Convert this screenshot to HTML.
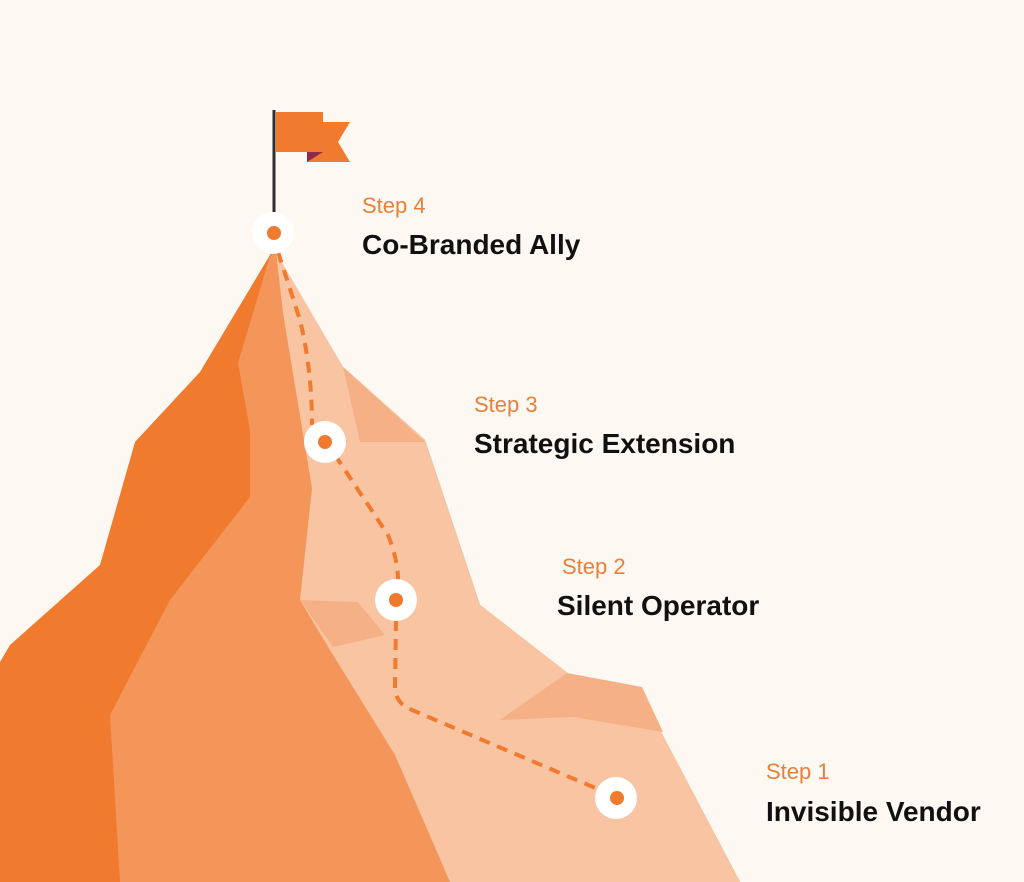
<!DOCTYPE html>
<html><head><meta charset="utf-8"><style>
html,body{margin:0;padding:0;background:#fdf8f2;}
svg{display:block}
.s{font-family:"Liberation Sans",sans-serif;font-size:22px;fill:#ea8038}
.t{font-family:"Liberation Sans",sans-serif;font-size:28px;fill:#111;font-weight:bold}
</style></head><body>
<svg width="1024" height="882" viewBox="0 0 1024 882" xmlns="http://www.w3.org/2000/svg">
<rect width="1024" height="882" fill="#fdf8f2"/>
<path d="M273,250 L200,372 L135,442 L100,565 L10,645 L0,662 L0,882 L740,882 L660,730 L640,690 L570,675 L480,605 L425,440 L343,367 Z" fill="#f07a2e"/>
<path d="M270,256 L238,363 L250,430 L250,497 L170,600 L110,715 L120,882 L740,882 L660,730 L640,690 L570,675 L480,605 L425,440 L343,367 L275,252 Z" fill="#f4955a"/>
<path d="M276,252 L283,313 L312,488 L300,600 L330,650 L395,755 L450,882 L740,882 L660,730 L640,690 L570,675 L480,605 L425,440 L343,367 Z" fill="#f9c4a1"/>
<path d="M343,367 L425,442 L360,442 Z" fill="#f5b085"/>
<path d="M300,600 L358,602 L385,635 L333,647 Z" fill="#f5b085"/>
<path d="M567,673 L642,687 L663,732 L573,717 L500,720 Z" fill="#f5b085"/>
<rect x="272.5" y="110" width="3" height="102" fill="#2e2e2e"/>
<polygon points="305,122 350,122 338,142 350,162 307,162 307,152 305,152" fill="#f07a2e"/>
<rect x="276" y="112" width="47" height="40" fill="#f07a2e"/>
<polygon points="307,152 323,152 307,162" fill="#8b2a4a"/>
<g fill="none" stroke="#f07a2e" stroke-width="4" stroke-dasharray="11,8">
<path d="M278,252 L300,320 Q312,370 312,425"/>
<path d="M335,455 L388,535 Q398,560 398,580"/>
<path d="M396,620 L395,688 Q396,704 412,710 L600,790"/>
</g>
<g fill="#fff">
<circle cx="273" cy="233" r="21"/><circle cx="325" cy="442" r="21"/><circle cx="396" cy="600" r="21"/><circle cx="616" cy="798" r="21"/>
</g>
<g fill="#f07a2e">
<circle cx="274" cy="233" r="7"/><circle cx="325" cy="442" r="7"/><circle cx="396" cy="600" r="7"/><circle cx="617" cy="798" r="7"/>
</g>
<text class="s" x="362" y="213">Step 4</text>
<text class="t" x="362" y="254">Co-Branded Ally</text>
<text class="s" x="474" y="412">Step 3</text>
<text class="t" x="474" y="453">Strategic Extension</text>
<text class="s" x="562" y="574">Step 2</text>
<text class="t" x="557" y="615">Silent Operator</text>
<text class="s" x="766" y="779">Step 1</text>
<text class="t" x="766" y="821">Invisible Vendor</text>
</svg>
</body></html>
